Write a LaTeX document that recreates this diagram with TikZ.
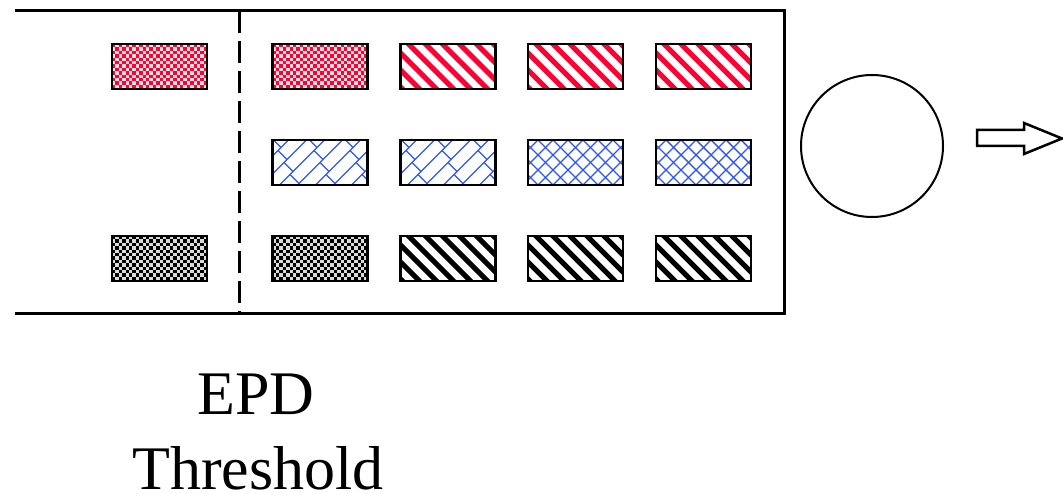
\documentclass[tikz,border=0pt]{standalone}
\usepackage{fontspec}
\setmainfont{Liberation Serif}

\definecolor{cellred}{RGB}{255,0,51}
\definecolor{cellblue}{RGB}{45,85,245}

\tikzset{
  cell/.style={draw=black, line width=2.8pt, minimum width=95pt, minimum height=45pt,
    inner sep=0pt, outer sep=0pt},
  % small checkerboard, built from dashed rows
  checkfill/.style={path picture={
    \begin{scope}[shift={(path picture bounding box.center)}]
      \fill[#1!14] (-50,-25) rectangle (50,25);
      \foreach \j in {0,...,14}{
        \pgfmathsetmacro\ph{mod(\j,2)*3.4}
        \draw[#1, line width=3.4pt, dash pattern=on 3.4pt off 3.4pt, dash phase=\ph pt]
          (-47.5,-22.5+\j*3.4+1.7) -- (50,-22.5+\j*3.4+1.7);
      }
    \end{scope}}},
  % wide diagonal stripes
  stripefill/.style={path picture={
    \begin{scope}[shift={(path picture bounding box.center)}]
      \foreach \k in {-6,...,6}
        \draw[#1, line width=5pt] (\k*17-60,-60) -- (\k*17+60,60);
    \end{scope}}},
  % diagonal cross hatch
  hatchfill/.style={path picture={
    \begin{scope}[shift={(path picture bounding box.center)}]
      \foreach \k in {-8,...,8}{
        \draw[#1, line width=1.4pt] (\k*15-60,-60) -- (\k*15+60,60);
        \draw[#1, line width=1.4pt] (\k*15-60,60) -- (\k*15+60,-60);
      }
    \end{scope}}},
  % diagonal brick wall
  brickfill/.style={path picture={
    \begin{scope}[shift={(path picture bounding box.center)}]
      \foreach \k in {-7,...,7}{
        \draw[#1, line width=1.4pt] (\k*18-60,60) -- (\k*18+60,-60);
        \foreach \m in {-5,...,5}{
          \pgfmathsetmacro\bt{\m*24+abs(mod(\k,2))*12}
          \draw[#1, line width=1.4pt] (\k*18+\bt,-\bt) -- (\k*18+\bt+9,-\bt+9);
        }
      }
    \end{scope}}},
  redchecks/.style={cell, checkfill=cellred},
  blackchecks/.style={cell, checkfill=black},
  redstripes/.style={cell, stripefill=cellred},
  blackstripes/.style={cell, stripefill=black},
  bluebricks/.style={cell, brickfill=cellblue},
  bluehatch/.style={cell, hatchfill=cellblue},
  frame/.style={line width=3pt},
  bigtext/.style={font=\fontsize{62}{70}\selectfont, anchor=base, inner sep=0pt}
}

\begin{document}
\begin{tikzpicture}[x=1pt,y=-1pt]
  \useasboundingbox (0,0) rectangle (1063,494);

  % buffer outline, open on the left
  \draw[frame] (15,11) -- (784,11) -- (784,314) -- (15,314);
  % threshold marker
  \draw[frame, dash pattern=on 22pt off 8pt] (239,11) -- (239,314);

  % cells left of the threshold
  \node[redchecks]   (a1) at (159.5,66.5)  {};
  \node[blackchecks] (a3) at (159.5,258.5) {};

  % cells right of the threshold
  \node[redchecks]    (b1) at (320,66.5)   {};
  \node[redstripes]   (c1) at (448,66.5)   {};
  \node[redstripes]   (d1) at (575.5,66.5) {};
  \node[redstripes]   (e1) at (703.5,66.5) {};

  \node[bluebricks]   (b2) at (320,162.5)   {};
  \node[bluebricks]   (c2) at (448,162.5)   {};
  \node[bluehatch]    (d2) at (575.5,162.5) {};
  \node[bluehatch]    (e2) at (703.5,162.5) {};

  \node[blackchecks]  (b3) at (320,258.5)   {};
  \node[blackstripes] (c3) at (448,258.5)   {};
  \node[blackstripes] (d3) at (575.5,258.5) {};
  \node[blackstripes] (e3) at (703.5,258.5) {};

  % server
  \node[draw, circle, line width=2pt, minimum size=142pt, inner sep=0pt] (srv) at (872,146) {};

  % output arrow
  \draw[line width=2.5pt, line join=miter]
    (977,130) -- (1024,130) -- (1024,123) -- (1062,138.5) -- (1024,154) -- (1024,146) -- (977,146) -- cycle;

  % label
  \node[bigtext] (lbl1) at (256,414) {EPD};
  \node[bigtext] (lbl2) at (258,489) {Threshold};
\end{tikzpicture}
\end{document}
